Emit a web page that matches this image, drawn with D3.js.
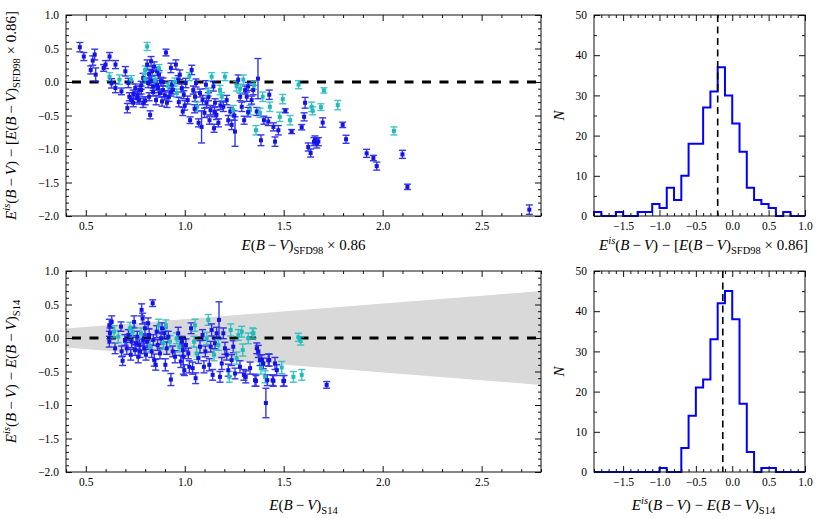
<!DOCTYPE html>
<html><head><meta charset="utf-8">
<script src="https://cdn.jsdelivr.net/npm/d3@7"></script>
<style>
body{margin:0;background:#fff}
svg{display:block}
text{font-family:"Liberation Serif","Times New Roman",Times,"DejaVu Serif",serif;fill:#000}
</style>
</head><body>
<svg id="c" width="830" height="519"></svg>
<script>
// ---------- DATA ----------
// Top scatter: x = E(B-V)_SFD98*0.86, y = E_is - [E_SFD98*0.86]; type 0 = blue, 1 = cyan
const topX = [0.47,0.49,0.525,0.535,0.545,0.55,0.59,0.60,0.62,0.62,0.63,0.65,0.65,0.67,0.68,0.70,0.71,0.715,0.73,0.72,
0.73,0.74,0.75,0.76,0.77,0.78,0.79,0.79,0.80,0.81,0.81,0.815,0.82,0.825,0.83,0.835,0.84,0.845,0.85,0.855,
0.86,0.865,0.87,0.875,0.88,0.885,0.89,0.905,0.91,0.917,0.92,0.93,0.935,0.94,0.955,0.96,0.967,0.975,0.985,0.99,
0.995,1.005,1.015,1.023,1.027,1.035,1.043,1.052,1.057,1.063,1.07,1.077,1.085,1.09,1.10,1.107,1.11,1.12,1.125,1.13,
1.136,1.145,1.148,1.153,1.16,1.17,1.178,1.187,1.195,1.203,1.212,1.22,1.23,1.237,1.245,1.254,1.262,1.27,1.28,1.288,
1.296,1.30,1.305,1.313,1.32,1.33,1.338,1.346,1.36,1.364,1.37,1.38,1.385,1.394,1.40,1.422,1.427,1.43,1.448,1.456,
1.473,1.48,1.495,1.508,1.532,1.54,1.575,1.603,1.608,1.624,1.591,1.636,1.641,1.646,1.653,1.658,1.667,1.675,1.688,1.697,
1.703,1.773,1.798,1.815,1.919,1.953,1.97,2.057,2.10,2.125,2.741,
0.76,0.78,0.80,0.82,0.84,0.86,0.87,0.89,0.90,0.93,0.95,0.97,0.80,0.77,0.83,0.74,1.00,1.05,1.12,1.15,1.18,1.25,1.28,1.32,1.35];
const topY = [0.52,0.38,0.18,0.32,0.41,0.11,0.21,0.26,0.38,0.08,-0.02,-0.09,0.26,0.035,-0.14,0.16,-0.39,-0.015,0.035,-0.22,
-0.27,-0.31,-0.09,-0.24,-0.27,-0.12,0.06,-0.31,0.18,0.53,0.26,-0.015,-0.22,-0.49,0.31,0.16,-0.065,0.23,0.035,-0.27,
0.16,-0.09,0.11,-0.165,0.01,-0.29,-0.12,0.44,-0.31,-0.065,-0.22,0.21,-0.04,-0.12,0.26,-0.165,0.035,0.11,-0.09,-0.44,
-0.19,-0.015,-0.27,0.08,-0.57,0.18,-0.12,-0.22,-0.015,-0.37,-0.61,-0.165,-0.67,-0.27,-0.46,-0.04,-0.31,-0.22,-0.57,-0.42,
0.08,-0.065,-0.69,-0.31,-0.49,-0.61,-0.12,-0.22,-0.37,0.08,-0.27,-0.57,-0.44,-0.64,-0.42,-0.74,-0.065,0.035,-0.22,-0.37,
0.035,-0.57,-0.12,-0.22,-0.065,-0.42,-0.27,-0.12,-0.72,-0.44,0.05,-0.46,-0.87,-0.22,-0.57,-0.59,-0.19,-0.37,-0.67,-0.89,
-0.72,-0.52,-0.255,-0.43,-0.57,-0.74,-0.04,-0.52,-0.31,-0.97,-0.675,-1.06,-0.37,-0.43,-0.89,-0.865,-0.915,-0.89,-0.375,-0.605,
-0.126,-0.345,-0.64,-0.855,-1.065,-1.135,-1.255,-0.73,-1.08,-1.565,-1.905,
-0.20,-0.05,0.05,0.12,-0.15,-0.05,0.20,0.00,-0.20,-0.15,0.00,-0.30,-0.28,-0.12,0.02,-0.18,-0.35,-0.40,-0.15,-0.45,-0.35,-0.50,-0.10,-0.45,-0.05];
const topErr = [0.07,0.06,0.06,0.07,0.08,0.10,0.05,0.06,0.06,0.06,0.07,0.07,0.06,0.07,0.05,0.07,0.07,0.07,0.06,0.06,
0.05,0.06,0.06,0.07,0.06,0.06,0.07,0.07,0.06,0.06,0.07,0.07,0.06,0.06,0.07,0.07,0.06,0.07,0.06,0.07,
0.06,0.07,0.06,0.06,0.06,0.07,0.06,0.05,0.07,0.06,0.07,0.07,0.06,0.06,0.07,0.06,0.06,0.07,0.06,0.06,
0.06,0.07,0.06,0.06,0.05,0.07,0.06,0.07,0.06,0.07,0.06,0.06,0.24,0.07,0.07,0.06,0.07,0.06,0.06,0.07,
0.06,0.07,0.06,0.06,0.07,0.06,0.07,0.06,0.07,0.06,0.07,0.07,0.06,0.07,0.07,0.22,0.07,0.07,0.06,0.07,
0.07,0.06,0.06,0.07,0.06,0.07,0.06,0.07,0.07,0.06,0.30,0.07,0.08,0.07,0.06,0.06,0.07,0.07,0.06,0.07,
0.07,0.07,0.07,0.03,0.07,0.03,0.06,0.06,0.08,0.06,0.04,0.06,0.07,0.06,0.06,0.06,0.07,0.06,0.05,0.07,
0.04,0.07,0.04,0.06,0.06,0.04,0.06,0.06,0.06,0.04,0.07,
0.06,0.06,0.07,0.06,0.06,0.07,0.06,0.06,0.07,0.06,0.06,0.07,0.06,0.06,0.07,0.06,0.07,0.06,0.06,0.07,0.06,0.07,0.06,0.07,0.06];
const topType = [0,0,0,0,0,0,0,0,0,1,0,0,0,1,0,0,0,0,1,0,
0,0,0,0,0,0,0,0,1,1,0,0,0,0,0,0,0,0,1,0,
0,0,0,0,0,0,0,0,0,1,0,0,0,0,0,1,0,0,0,0,
0,0,0,1,0,0,0,0,0,1,0,0,0,0,0,0,0,0,0,0,
1,0,0,0,0,0,1,1,0,1,0,0,0,0,1,0,1,0,0,0,
1,0,0,0,0,1,0,0,1,0,0,1,0,1,0,0,0,1,0,0,
0,1,1,0,1,0,1,0,0,0,0,0,1,1,0,0,0,0,1,0,
1,1,0,0,0,0,0,1,0,0,0,
0,0,1,0,0,0,1,0,0,0,1,0,0,0,0,0,0,0,1,0,0,0,1,0,1];

// Bottom scatter: x = E(B-V)_S14, y = E_is - E(B-V)_S14
const botX = [0.619,0.622,0.631,0.619,0.643,0.648,0.664,0.678,0.681,0.686,0.698,0.707,0.715,0.723,0.727,0.732,0.737,0.744,0.749,0.754,
0.76,0.765,0.77,0.774,0.779,0.782,0.787,0.79,0.795,0.799,0.804,0.81,0.815,0.82,0.824,0.833,0.838,0.841,0.846,0.853,
0.858,0.863,0.868,0.875,0.88,0.885,0.892,0.897,0.902,0.905,0.909,0.917,0.925,0.93,0.939,0.951,0.959,0.967,0.972,0.98,
0.985,0.99,0.993,0.998,1.006,1.018,1.023,1.032,1.04,1.047,1.052,1.055,1.06,1.069,1.077,1.09,1.097,1.104,1.111,1.119,
1.124,1.131,1.136,1.141,1.148,1.153,1.161,1.17,1.173,1.178,1.187,1.195,1.203,1.212,1.22,1.225,1.232,1.237,1.245,1.254,
1.262,1.271,1.279,1.288,1.293,1.299,1.308,1.321,1.33,1.343,1.355,1.364,1.372,1.38,1.385,1.397,1.406,1.41,1.417,1.427,
1.444,1.456,1.465,1.49,1.502,1.549,1.574,1.591,1.586,1.347,1.389,1.422,1.36,1.717,1.498,1.448];
const botY = [0.19,0.07,0.24,-0.055,0.094,-0.154,0.02,0.17,-0.2,-0.34,-0.03,-0.154,0.045,0.145,-0.25,-0.055,0.094,0.24,-0.18,-0.08,
0.02,-0.28,-0.104,-0.2,0.07,0.42,0.29,-0.03,-0.154,0.145,-0.25,-0.055,0.22,0.045,-0.13,-0.2,0.52,-0.03,-0.33,-0.4,
0.094,-0.104,0.19,-0.23,-0.005,0.145,-0.08,0.07,-0.4,0.19,-0.154,0.02,-0.055,-0.62,-0.2,-0.28,-0.005,0.07,-0.13,-0.35,
-0.055,-0.18,-0.28,-0.48,-0.104,-0.23,-0.43,0.145,-0.45,-0.055,0.19,-0.6,-0.23,-0.3,-0.13,0.045,-0.43,-0.2,-0.005,0.27,
-0.4,-0.13,0.12,-0.55,-0.25,-0.08,0.07,-0.104,0.27,-0.58,-0.38,0.07,-0.154,-0.25,-0.48,-0.58,0.12,-0.33,-0.13,-0.53,
-0.3,0.045,-0.43,0.094,-0.18,-0.55,-0.58,-0.005,-0.45,0.07,-0.63,-0.154,-0.2,-0.33,-0.45,-0.38,-0.58,-0.97,-0.63,-0.33,
-0.63,-0.38,-0.48,-0.44,-0.64,-0.58,0.01,-0.55,-0.045,0.07,-0.33,-0.33,-0.64,-0.70,-0.64,-0.64];
const botErr = [0.09,0.08,0.09,0.08,0.09,0.08,0.09,0.07,0.08,0.07,0.08,0.09,0.08,0.09,0.08,0.09,0.08,0.09,0.08,0.09,
0.08,0.09,0.08,0.09,0.08,0.09,0.08,0.09,0.08,0.09,0.08,0.09,0.08,0.09,0.08,0.09,0.05,0.08,0.09,0.08,
0.09,0.08,0.09,0.08,0.09,0.08,0.09,0.08,0.09,0.08,0.09,0.08,0.09,0.09,0.08,0.09,0.08,0.09,0.08,0.09,
0.08,0.09,0.26,0.08,0.09,0.08,0.09,0.08,0.09,0.08,0.09,0.08,0.09,0.08,0.09,0.08,0.09,0.08,0.09,0.08,
0.09,0.08,0.09,0.08,0.09,0.08,0.09,0.08,0.27,0.08,0.09,0.08,0.09,0.08,0.09,0.08,0.09,0.08,0.09,0.08,
0.09,0.08,0.09,0.08,0.09,0.08,0.09,0.08,0.09,0.08,0.09,0.08,0.09,0.08,0.09,0.08,0.09,0.22,0.08,0.09,
0.08,0.09,0.08,0.09,0.08,0.08,0.06,0.08,0.06,0.07,0.08,0.09,0.08,0.05,0.08,0.08];
const botType = [0,0,0,0,1,0,1,0,0,0,0,0,0,1,0,0,1,0,0,0,
0,0,0,0,1,0,0,0,0,0,0,0,0,0,1,0,0,0,0,0,
0,0,1,0,0,0,1,0,0,1,0,0,1,0,0,0,1,0,1,0,
0,0,0,0,0,0,0,0,0,1,1,0,1,0,0,0,0,0,1,1,
0,0,0,0,1,0,0,1,0,0,0,0,0,0,0,1,1,0,0,0,
1,1,0,1,1,0,0,1,0,1,0,0,0,0,1,0,1,0,0,0,
0,0,0,1,0,1,1,1,1,1,0,0,0,0,0,0];

// Grey band in bottom scatter (half-width in y at band x)
const bandX = [0.4, 2.8];
const bandHalf = [0.14, 0.70];

// Histograms (bins of 0.1 starting at -1.9)
const histEdges = [-1.9,-1.8,-1.7,-1.6,-1.5,-1.4,-1.3,-1.2,-1.1,-1.0,-0.9,-0.8,-0.7,-0.6,-0.5,-0.4,-0.3,-0.2,-0.1,0.0,0.1,0.2,0.3,0.4,0.5,0.6,0.7,0.8,0.9,1.0];
const histTopCounts = [1,0,0,1,0,0,1,1,3,2,7,4,10,18,18,27,31,37,30,23,16,7,4,3,2,0,1,0,0];
const histBotCounts = [0,0,0,0,0,0,0,0,0,1,0,0,6,14,21,23,33,42,45,38,17,5,0,1,1,0,0,0,0];
const histTopMedian = -0.20;
const histBotMedian = -0.13;

// Ticks
const scatterXTicks = [0.5,1.0,1.5,2.0,2.5];
const scatterYTicks = [-2.0,-1.5,-1.0,-0.5,0.0,0.5,1.0];
const histXTicks = [-1.5,-1.0,-0.5,0.0,0.5,1.0];
const histYTicks = [0,10,20,30,40,50];

// ---------- DRAW ----------
const FONT = '"Liberation Serif","Times New Roman",Times,"DejaVu Serif",serif';
const svg = d3.select('#c');
const BLUE = '#1414e8', CYAN = '#1fbcbc';
const fmt1 = d3.format('.1f');

function axes(g, x, y, w, h, xMaj, xMin, yMaj, yMin, xf, yf) {
  const put = (sel, ax) => { sel.call(ax); sel.select('.domain').remove();
    sel.attr('font-size', 11.5).attr('font-family', FONT);
    sel.selectAll('line').attr('stroke', '#111'); return sel; };
  put(g.append('g').attr('transform', `translate(0,${h})`), d3.axisBottom(x).tickValues(xMaj).tickSize(-6).tickSizeOuter(0).tickPadding(6).tickFormat(xf));
  put(g.append('g').attr('transform', `translate(0,${h})`), d3.axisBottom(x).tickValues(xMin).tickSize(-3).tickSizeOuter(0).tickFormat(''));
  put(g.append('g'), d3.axisTop(x).tickValues(xMaj).tickSize(-6).tickSizeOuter(0).tickFormat(''));
  put(g.append('g'), d3.axisTop(x).tickValues(xMin).tickSize(-3).tickSizeOuter(0).tickFormat(''));
  put(g.append('g'), d3.axisLeft(y).tickValues(yMaj).tickSize(-6).tickSizeOuter(0).tickPadding(7).tickFormat(yf));
  put(g.append('g'), d3.axisLeft(y).tickValues(yMin).tickSize(-3).tickSizeOuter(0).tickFormat(''));
  put(g.append('g').attr('transform', `translate(${w},0)`), d3.axisRight(y).tickValues(yMaj).tickSize(-6).tickSizeOuter(0).tickFormat(''));
  put(g.append('g').attr('transform', `translate(${w},0)`), d3.axisRight(y).tickValues(yMin).tickSize(-3).tickSizeOuter(0).tickFormat(''));
  g.append('rect').attr('width', w).attr('height', h).attr('fill', 'none').attr('stroke', '#111').attr('stroke-width', 1);
}

function rich(parent, x, y, parts, size, rot) {
  const t = parent.append('text').attr('text-anchor', 'middle').attr('font-size', size).attr('font-family', FONT)
    .attr('transform', `translate(${x},${y})` + (rot ? ' rotate(-90)' : ''));
  let cur = 0;
  parts.forEach(p => {
    const s = t.append('tspan').text(p[0]);
    let target = 0, fs = size;
    if (p[1].includes('i')) s.attr('font-style', 'italic');
    if (p[1].includes('^')) { target = -0.42 * size; fs = size * 0.7; }
    if (p[1].includes('_')) { target = 0.25 * size; fs = size * 0.7; }
    s.attr('font-size', fs);
    if (target !== cur) { s.attr('dy', target - cur); cur = target; }
  });
  return t;
}

const S = '\u2009';
const lblTopY = [['E','i'],['is','i^'],['(',''],['B','i'],[S+'−'+S,''],['V','i'],[') − [',''],['E','i'],['(',''],['B','i'],[S+'−'+S,''],['V','i'],[')',''],['SFD98','_'],[' × 0.86]','']];
const lblTopX = [['E','i'],['(',''],['B','i'],[S+'−'+S,''],['V','i'],[')',''],['SFD98','_'],[' × 0.86','']];
const lblBotY = [['E','i'],['is','i^'],['(',''],['B','i'],[S+'−'+S,''],['V','i'],[') − ',''],['E','i'],['(',''],['B','i'],[S+'−'+S,''],['V','i'],[')',''],['S14','_']];
const lblBotX = [['E','i'],['(',''],['B','i'],[S+'−'+S,''],['V','i'],[')',''],['S14','_']];

function scatter(ox, oy, xs, ys, es, ts, band, ylab, xlab, xlabDy) {
  const w = 475, h = 201;
  const g = svg.append('g').attr('transform', `translate(${ox},${oy})`);
  const x = d3.scaleLinear().domain([0.4, 2.8]).range([0, w]);
  const y = d3.scaleLinear().domain([-2.0, 1.0]).range([h, 0]);
  const cid = 'clip' + oy;
  g.append('clipPath').attr('id', cid).append('rect').attr('width', w).attr('height', h);
  const pg = g.append('g').attr('clip-path', `url(#${cid})`);
  if (band) {
    const area = d3.area().x((d, i) => x(bandX[i])).y0((d, i) => y(-bandHalf[i])).y1((d, i) => y(bandHalf[i]));
    pg.append('path').datum(bandX).attr('d', area).attr('fill', '#d9d9d9');
  }
  pg.append('line').attr('x1', x(0.4)).attr('x2', x(2.8)).attr('y1', y(0)).attr('y2', y(0))
    .attr('stroke', '#000').attr('stroke-width', 3).attr('stroke-dasharray', '9,8.5').attr('stroke-dashoffset', -6);
  const idx = d3.range(xs.length);
  const col = i => ts[i] ? CYAN : BLUE;
  const eb = pg.append('g').attr('stroke-width', 1.4).attr('opacity', 0.85);
  idx.forEach(i => {
    const cx = x(xs[i]), y1 = y(ys[i] + es[i]), y2 = y(ys[i] - es[i]);
    eb.append('line').attr('x1', cx).attr('x2', cx).attr('y1', y1).attr('y2', y2).attr('stroke', col(i));
    eb.append('line').attr('x1', cx - 3.5).attr('x2', cx + 3.5).attr('y1', y1).attr('y2', y1).attr('stroke', col(i));
    eb.append('line').attr('x1', cx - 3.5).attr('x2', cx + 3.5).attr('y1', y2).attr('y2', y2).attr('stroke', col(i));
  });
  pg.append('g').selectAll('rect').data(idx).join('rect')
    .attr('x', i => x(xs[i]) - 2).attr('y', i => y(ys[i]) - 2).attr('width', 4).attr('height', 4)
    .attr('fill', col);
  axes(g, x, y, w, h, scatterXTicks, d3.range(4, 29).map(v => v / 10).filter(v => !scatterXTicks.includes(v)),
    scatterYTicks, d3.range(-20, 11).map(v => v / 10).filter(v => !scatterYTicks.includes(v)), fmt1, fmt1);
  rich(svg, 16, oy + h / 2, ylab, 15, true);
  rich(svg, ox + w / 2, oy + h + xlabDy, xlab, 15, false);
}

function hist(ox, oy, counts, med, xlab, xlabDy) {
  const w = 211, h = 201;
  const g = svg.append('g').attr('transform', `translate(${ox},${oy})`);
  const x = d3.scaleLinear().domain([-1.9, 1.0]).range([0, w]);
  const y = d3.scaleLinear().domain([0, 50]).range([h, 0]);
  const pts = [[histEdges[0], 0]];
  counts.forEach((c, i) => { pts.push([histEdges[i], c]); pts.push([histEdges[i + 1], c]); });
  pts.push([histEdges[histEdges.length - 1], 0]);
  g.append('path').attr('d', d3.line().x(d => x(d[0])).y(d => y(d[1]))(pts))
    .attr('fill', 'none').attr('stroke', '#0000ff').attr('stroke-width', 2);
  g.append('line').attr('x1', x(med)).attr('x2', x(med)).attr('y1', 0).attr('y2', h)
    .attr('stroke', '#000').attr('stroke-width', 1.6).attr('stroke-dasharray', '7,4.5');
  axes(g, x, y, w, h, histXTicks, d3.range(-19, 11).map(v => v / 10).filter(v => !histXTicks.includes(v)),
    histYTicks, [5, 15, 25, 35, 45], fmt1, d3.format('d'));
  svg.append('text').attr('font-style', 'italic').attr('font-size', 15).attr('font-family', FONT).attr('text-anchor', 'middle')
    .attr('transform', `translate(${ox - 30},${oy + h / 2}) rotate(-90)`).text('N');
  rich(svg, ox + w / 2 + 4, oy + h + xlabDy, xlab, 15, false);
}

scatter(66, 15, topX, topY, topErr, topType, false, lblTopY, lblTopX, 34);
scatter(66, 271, botX, botY, botErr, botType, true, lblBotY, lblBotX, 38);
hist(594, 15, histTopCounts, histTopMedian, lblTopY, 34);
hist(594, 271, histBotCounts, histBotMedian, lblBotY, 38);
</script>
</body></html>
